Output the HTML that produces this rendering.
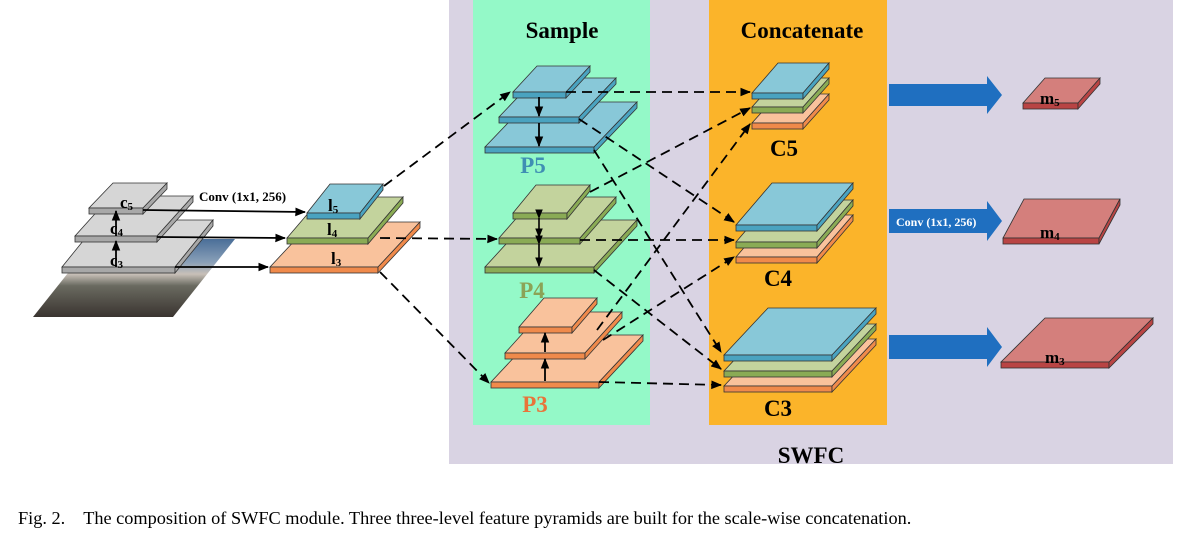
<!DOCTYPE html>
<html><head><meta charset="utf-8"><style>
html,body{margin:0;padding:0;background:#fff;width:1179px;height:533px;overflow:hidden}
svg{display:block}
</style></head><body>
<svg id="s" width="1179" height="533" xmlns="http://www.w3.org/2000/svg" font-family="Liberation Serif, serif">
<defs>
<marker id="ah" viewBox="0 0 10 10" refX="9" refY="5" markerWidth="6" markerHeight="6" orient="auto"><path d="M0,1 L10,5 L0,9 z" fill="#000"/></marker>
<linearGradient id="img" x1="0" y1="0" x2="0" y2="1">
<stop offset="0" stop-color="#4a6e98"/><stop offset="0.3" stop-color="#8aa0b8"/><stop offset="0.45" stop-color="#c8c0b8"/><stop offset="0.6" stop-color="#6a6a60"/><stop offset="1" stop-color="#3a3430"/></linearGradient>
</defs>
<rect x="449" y="0" width="724" height="464" fill="#d9d3e3"/>
<rect x="473" y="0" width="177" height="425" fill="#94f9c8"/>
<rect x="709" y="0" width="178" height="425" fill="#fbb42a"/>
<polygon points="33,317 173,317 235,239 95,239" fill="url(#img)"/>
<g id="g"></g>
<g font-weight="bold" font-size="23">
<text x="562" y="38" text-anchor="middle">Sample</text>
<text x="802" y="38" text-anchor="middle">Concatenate</text>
<text x="811" y="463" text-anchor="middle">SWFC</text>
<text x="533" y="173" text-anchor="middle" fill="#3f8fb3">P5</text>
<text x="532" y="298" text-anchor="middle" fill="#8ba356">P4</text>
<text x="535" y="412" text-anchor="middle" fill="#e8743a">P3</text>
<text x="784" y="156" text-anchor="middle">C5</text>
<text x="778" y="286" text-anchor="middle">C4</text>
<text x="778" y="416" text-anchor="middle">C3</text>
</g>
<g font-weight="bold" font-size="13">
<text x="199" y="201">Conv (1x1, 256)</text>
</g>
<text x="18" y="524" font-size="18.3">Fig. 2.&#160;&#160;&#160; The composition of SWFC module. Three three-level feature pyramids are built for the scale-wise concatenation.</text>
</svg>
<script>
var g=document.getElementById('g'),h='';
var C={b:['#88c8d8','#4aa3c0'],g:['#c3d39d','#8aab55'],o:['#f9c29c','#f08a4b'],k:['#d6d6d6','#a8a8a8'],r:['#d47f7c','#b94444']};
function P(x,y,w,tx,ty,c,t){t=t||6;var dx=tx-(x+w);var f=C[c];
h+='<polygon points="'+x+','+y+' '+(x+w)+','+y+' '+tx+','+ty+' '+(x+dx)+','+ty+'" fill="'+f[0]+'" stroke="#333" stroke-width="0.8"/>';
h+='<rect x="'+x+'" y="'+y+'" width="'+w+'" height="'+t+'" fill="'+f[1]+'" stroke="#333" stroke-width="0.8"/>';
h+='<polygon points="'+(x+w)+','+y+' '+tx+','+ty+' '+tx+','+(ty+t)+' '+(x+w)+','+(y+t)+'" fill="'+f[1]+'" stroke="#333" stroke-width="0.8"/>';}
function L(x1,y1,x2,y2,d){h+='<line x1="'+x1+'" y1="'+y1+'" x2="'+x2+'" y2="'+y2+'" stroke="#000" stroke-width="1.8"'+(d?' stroke-dasharray="10,6"':'')+' marker-end="url(#ah)"/>';}
function T(x,y,s,sub){h+='<text x="'+x+'" y="'+y+'" font-weight="bold" font-size="17" font-family="Liberation Serif,serif">'+s+'<tspan font-size="11" dy="2">'+sub+'</tspan></text>';}
P(62,267,113,213,220,'k');P(75,236,82,193,196,'k');P(89,208,54,167,183,'k');
L(116,267,116,241);L(116,236,116,211);
T(110,266,'c','3');T(110,234,'c','4');T(120,208,'c','5');
P(270,267,108,420,222,'o');P(287,238,81,403,197,'g');P(307,213,53,383,184,'b');
T(331,264,'l','3');T(327,235,'l','4');T(328,211,'l','5');
L(143,210,305,212);L(157,237,285,238);L(175,267,268,267);
L(384,186,510,92,1);L(380,238,497,239,1);L(380,272,489,383,1);
P(485,147,109,637,102,'b');P(499,117,80,616,78,'b');P(513,92,53,590,66,'b');
L(539,97,539,116);L(539,123,539,146);
P(485,267,109,637,220,'g');P(499,238,81,616,197,'g');P(513,213,54,590,185,'g');
h+='<line x1="539" y1="218" x2="539" y2="237" stroke="#000" stroke-width="1.6" marker-end="url(#ah)" marker-start="url(#ah)"/>';
h+='<line x1="539" y1="244" x2="539" y2="266" stroke="#000" stroke-width="1.6" marker-end="url(#ah)" marker-start="url(#ah)"/>';
P(491,382,108,643,335,'o');P(505,353,80,622,312,'o');P(519,327,53,597,298,'o');
L(545,381,545,359);L(545,352,545,333);
P(752,123,51,829,94,'o');P(752,107,51,829,78,'g');P(752,93,51,829,63,'b');
P(736,257,81,853,215,'o');P(736,242,81,853,200,'g');P(736,225,81,853,183,'b');
P(724,386,108,876,339,'o');P(724,371,108,876,324,'g');P(724,355,108,876,308,'b');
L(566,92,750,92,1);L(579,119,734,222,1);L(594,150,721,352,1);
L(590,192,750,108,1);L(580,240,734,240,1);L(594,270,721,369,1);
L(597,330,750,124,1);L(603,340,734,257,1);L(599,382,721,385,1);
function A(y1,y2){var m=(y1+y2)/2;h+='<polygon points="889,'+(y1+4)+' 987,'+(y1+4)+' 987,'+(y1-4)+' 1002,'+m+' 987,'+(y2+4)+' 987,'+(y2-4)+' 889,'+(y2-4)+'" fill="#1f6fc0"/>';}
A(80,110);A(205,237);A(331,363);
h+='<text x="896" y="226" font-weight="bold" font-size="12" fill="#fff">Conv (1x1, 256)</text>';
P(1023,103,55,1100,78,'r');P(1003,238,96,1120,199,'r');P(1001,362,108,1153,318,'r');
T(1040,104,'m','5');T(1040,238,'m','4');T(1045,363,'m','3');
g.innerHTML=h;
</script>
</body></html>
